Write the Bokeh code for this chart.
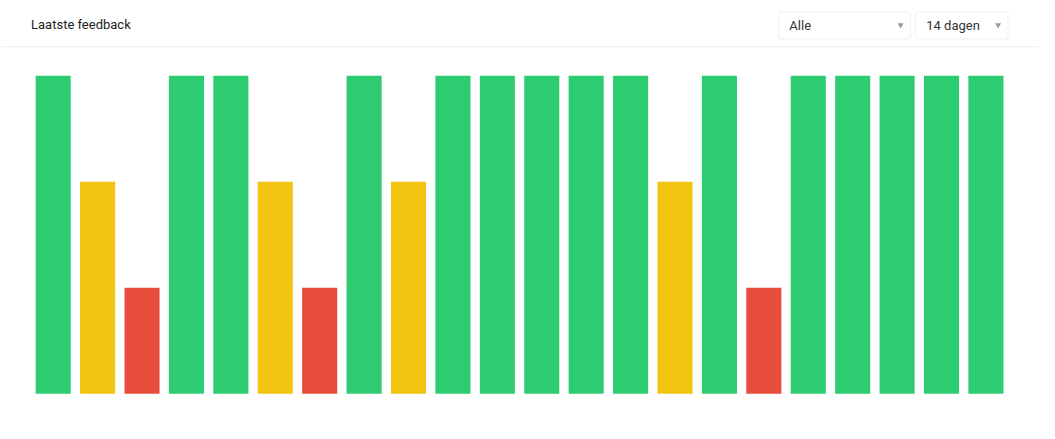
from bokeh.plotting import figure
from bokeh.models import Span, BoxAnnotation, ColumnDataSource
from bokeh.core.properties import value
from bokeh.embed import file_html
from bokeh.resources import INLINE

# ---- data ----
days = list(range(22))
scores = [3, 2, 1, 3, 3, 2, 1, 3, 2, 3, 3, 3, 3, 3, 2, 3, 1, 3, 3, 3, 3, 3]
score_colors = {3: "#2ecc71", 2: "#f1c40f", 1: "#e74c3c"}
title_text = "Laatste feedback"
filter_labels = ["Alle", "14 dagen"]

# ---- layout geometry (reference pixels, figure scaled to fit) ----
REF_W, REF_H = 1055, 439
W, H = 1039, 423
SX, SY = W / REF_W, H / REF_H
X0_REF, STEP_REF = 53.5, 45.1      # centre of first bar, bar pitch
BASE_REF, UNIT_REF = 408, 110      # y of value 0, px per unit


def px2x(px):
    return (px - X0_REF) / STEP_REF


def py2y(py):
    return (BASE_REF - py) / UNIT_REF


x_start, x_end = px2x(0), px2x(REF_W)
y_start, y_end = py2y(REF_H), py2y(0)

p = figure(width=W, height=H, output_backend="svg", toolbar_location=None,
           x_range=(x_start, x_end), y_range=(y_start, y_end),
           x_axis_type=None, y_axis_type=None, min_border=0,
           outline_line_color=None)
p.grid.visible = False
p.background_fill_color = "white"
p.border_fill_color = "white"

src = ColumnDataSource(dict(x=days, top=scores,
                            color=[score_colors[s] for s in scores]))
p.vbar(x="x", top="top", bottom=0, width=0.79, fill_color="color",
       line_color=None, source=src)

# header
p.text(x=[px2x(31)], y=[py2y(25)], text=[title_text],
       text_font=value("Roboto"), text_font_size="13px", text_color="#222222",
       text_baseline="middle", text_align="left")

p.add_layout(Span(location=py2y(48), dimension="width",
                  line_color="#ebebeb", line_width=1, level="underlay"))

boxes = [(790, 924), (929, 1023)]
for (l, r), lab in zip(boxes, filter_labels):
    p.add_layout(BoxAnnotation(left=px2x(l), right=px2x(r),
                               top=py2y(12), bottom=py2y(40),
                               fill_color="white", fill_alpha=1.0,
                               line_color="#cccccc", line_width=1,
                               border_radius=2, level="underlay"))
    p.text(x=[px2x(l + 11)], y=[py2y(26)], text=[lab],
           text_font=value("Roboto"), text_font_size="13px",
           text_color="#333333", text_baseline="middle", text_align="left")
    p.scatter(x=[px2x(r - 10)], y=[py2y(25.5)], marker="inverted_triangle",
              size=6, fill_color="#999999", line_color=None)

open("out.html", "w").write(file_html(p, INLINE))
